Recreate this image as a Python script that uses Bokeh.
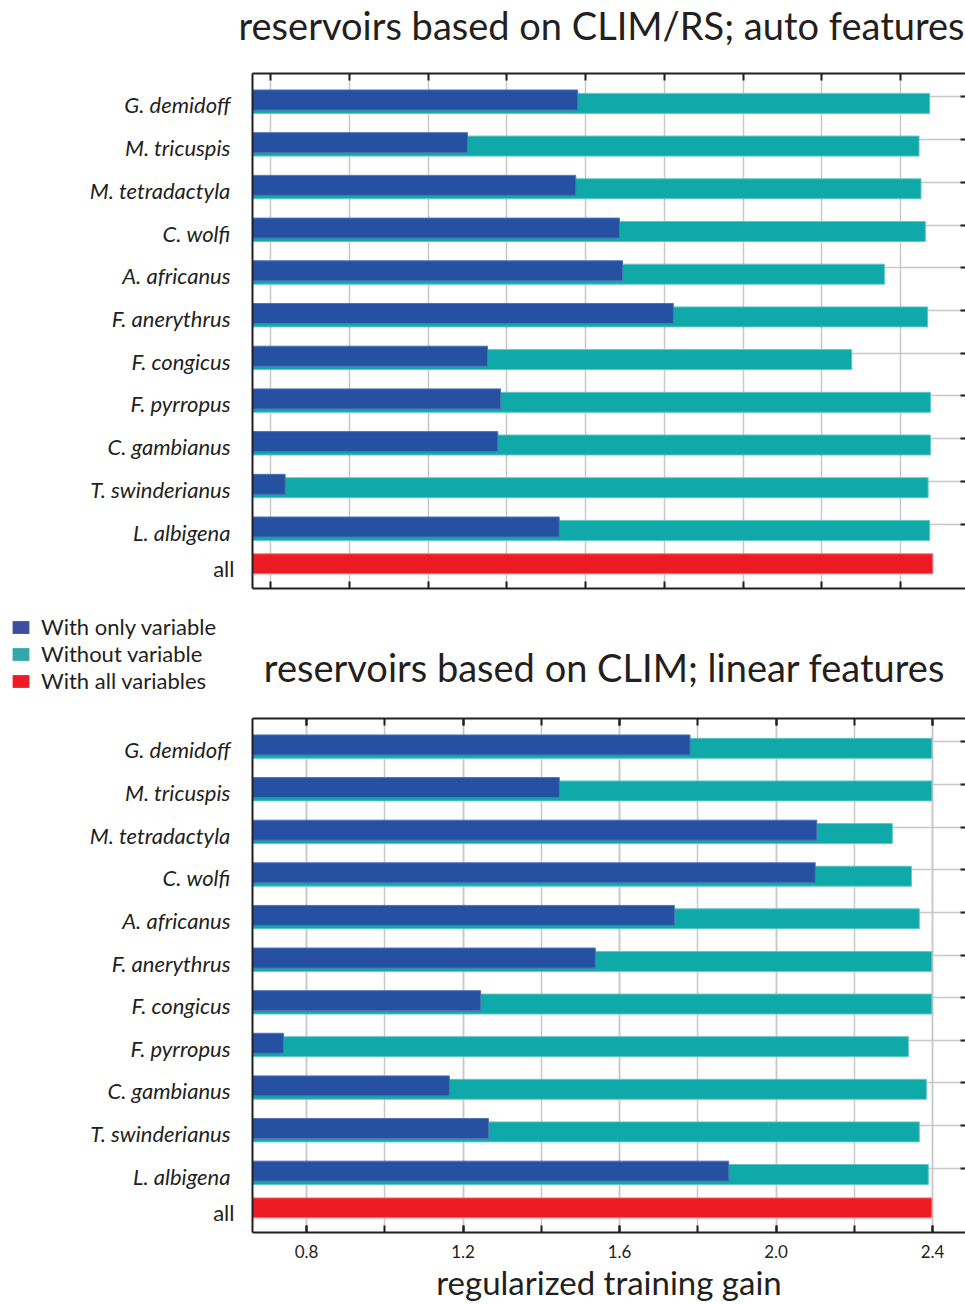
from bokeh.plotting import figure
from bokeh.models import (Range1d, FixedTicker, LinearAxis, CustomJSTickFormatter,
                          PrintfTickFormatter, CustomLabelingPolicy,
                          Label, Legend, LegendItem, ColumnDataSource)
from bokeh.embed import file_html
from bokeh.resources import INLINE

# ---------------- data ----------------
species = ["G. demidoff", "M. tricuspis", "M. tetradactyla", "C. wolfi", "A. africanus",
           "F. anerythrus", "F. congicus", "F. pyrropus", "C. gambianus",
           "T. swinderianus", "L. albigena"]
all_label = "all"

title_top = "reservoirs based on CLIM/RS; auto features"
title_bot = "reservoirs based on CLIM; linear features"
x_label = "regularized training gain"
legend_labels = ["With only variable", "Without variable", "With all variables"]

# top panel (CLIM/RS, auto features)
top_only = [1.480, 1.200, 1.475, 1.586, 1.594, 1.723, 1.251, 1.284, 1.277, 0.737, 1.433]
top_without = [2.374, 2.347, 2.352, 2.363, 2.259, 2.369, 2.176, 2.376, 2.376, 2.370, 2.374]
top_all = 2.382

# bottom panel (CLIM, linear features)
bot_only = [1.780, 1.446, 2.104, 2.100, 1.740, 1.538, 1.245, 0.741, 1.165, 1.265, 1.879]
bot_without = [2.398, 2.398, 2.297, 2.346, 2.366, 2.398, 2.398, 2.338, 2.384, 2.366, 2.389]
bot_all = 2.398

top_ticks = [0.7, 0.9, 1.1, 1.3, 1.5, 1.7, 1.9, 2.1, 2.3]
bot_major_ticks = [0.8, 1.2, 1.6, 2.0, 2.4]
bot_minor_ticks = [0.8, 1.0, 1.2, 1.4, 1.6, 1.8, 2.0, 2.2, 2.4]

# ---------------- styles ----------------
BLUE, BLUE_EDGE = "#2651A3", "#4F72B8"
TEAL, TEAL_EDGE = "#0EA9A8", "#63C7C5"
RED, RED_EDGE = "#ED1C24", "#F27A7A"
LEG_COLORS = ["#3B4EA0", "#32A8AA", "#ED1C24"]
INK = "#231F20"
GRID = "#C8C8C8"
FONT = "Lato"

W = 965
ROW = 42.7                      # px per row
BAR_H = 20 / ROW
TEAL_OFF = 3.4 / ROW
LABEL_OFF = 5 / ROW
GRID_OFF = -3 / ROW
ALL_POS = 10 + 36.8 / ROW

ypos = list(range(len(species)))

NO_LABELS = CustomLabelingPolicy(code="""
for (let i = 0; i < indices.size; i++) { indices.unset(i) }
return indices
""")


def blank(height):
    p = figure(width=W, height=height, x_range=Range1d(0, W), y_range=Range1d(height, 0),
               x_axis_type=None, y_axis_type=None, output_backend="svg",
               toolbar_location=None, min_border=0)
    p.outline_line_color = None
    p.grid.visible = False
    return p


def hidden_label_axis(ticks, minor, tick_in, minor_in, axis_line):
    return LinearAxis(ticker=FixedTicker(ticks=ticks, minor_ticks=minor),
                      axis_line_color=INK if axis_line else None, axis_line_width=2,
                      major_tick_in=tick_in, major_tick_out=0,
                      major_tick_line_color=INK, major_tick_line_width=2,
                      minor_tick_in=minor_in, minor_tick_out=0,
                      minor_tick_line_color=INK if minor else None, minor_tick_line_width=2,
                      major_label_text_font_size="0px", major_label_standoff=0,
                      major_label_policy=NO_LABELS)


def panel(height, btop, bbot, x0, x1, only, without, allv, labelled):
    p = figure(width=W, height=height, x_range=Range1d(x0, x1), y_range=Range1d(11.44, -0.62),
               output_backend="svg", toolbar_location=None,
               min_border_left=252, min_border_right=0,
               min_border_top=btop, min_border_bottom=bbot)
    p.outline_line_color = None

    if labelled:
        xt = FixedTicker(ticks=bot_major_ticks, minor_ticks=bot_minor_ticks)
    else:
        xt = FixedTicker(ticks=top_ticks, minor_ticks=[])

    src = ColumnDataSource(dict(y=ypos, yt=[y + TEAL_OFF for y in ypos],
                                only=only, without=without))
    p.hbar(y="yt", left=x0, right="without", height=BAR_H, source=src,
           fill_color=TEAL, line_color=TEAL_EDGE, line_width=1)
    p.hbar(y="y", left=x0, right="only", height=BAR_H, source=src,
           fill_color=BLUE, line_color=BLUE_EDGE, line_width=1)
    p.hbar(y=[ALL_POS], left=x0, right=[allv], height=BAR_H,
           fill_color=RED, line_color=RED_EDGE, line_width=1)

    # grids
    p.xgrid.ticker = xt
    p.xgrid.grid_line_color = GRID
    p.xgrid.grid_line_width = 1.5
    if labelled:
        p.xgrid.minor_grid_line_color = GRID
        p.xgrid.minor_grid_line_width = 1.5
    p.ygrid.ticker = FixedTicker(ticks=[y + GRID_OFF for y in ypos], minor_ticks=[])
    p.ygrid.grid_line_color = GRID
    p.ygrid.grid_line_width = 1.5

    # bottom axis
    xa = p.xaxis[0]
    xa.ticker = xt
    xa.axis_line_color = INK
    xa.axis_line_width = 2
    xa.major_tick_in = 7
    xa.major_tick_out = 0
    xa.major_tick_line_color = INK
    xa.major_tick_line_width = 2
    if labelled:
        xa.minor_tick_in = 7
        xa.minor_tick_out = 0
        xa.minor_tick_line_color = INK
        xa.minor_tick_line_width = 2
        xa.formatter = PrintfTickFormatter(format="%.1f")
        xa.major_label_text_font = FONT
        xa.major_label_text_font_size = "17px"
        xa.major_label_text_color = INK
        xa.major_label_standoff = 12
        xa.axis_label = x_label
        xa.axis_label_text_font = FONT
        xa.axis_label_text_font_size = "33px"
        xa.axis_label_text_font_style = "normal"
        xa.axis_label_text_color = INK
        xa.axis_label_standoff = 1
    else:
        xa.minor_tick_line_color = None
        xa.major_label_text_font_size = "0px"
        xa.major_label_standoff = 0
        xa.major_label_policy = NO_LABELS

    # top axis
    p.add_layout(hidden_label_axis(list(xt.ticks), list(xt.minor_ticks), 7,
                                   7 if labelled else 0, True), "above")

    # inner left axis: frame line and the upright "all" label
    ya = p.yaxis[0]
    ya.ticker = FixedTicker(ticks=[ALL_POS + LABEL_OFF], minor_ticks=[])
    ya.formatter = CustomJSTickFormatter(args=dict(lab=all_label), code="return lab;")
    ya.axis_line_color = INK
    ya.axis_line_width = 2
    ya.major_tick_line_color = None
    ya.minor_tick_line_color = None
    ya.major_label_standoff = 12
    ya.major_label_text_font = FONT
    ya.major_label_text_font_size = "22px"
    ya.major_label_text_color = INK

    # outer left axis: italic species names
    sa = LinearAxis(ticker=FixedTicker(ticks=[y + LABEL_OFF for y in ypos], minor_ticks=[]),
                    formatter=CustomJSTickFormatter(args=dict(labels=species),
                                                    code="return labels[Math.round(tick)];"),
                    axis_line_color=None, major_tick_line_color=None,
                    minor_tick_line_color=None, major_label_standoff=-26,
                    major_label_text_font=FONT, major_label_text_font_style="italic",
                    major_label_text_font_size="22px", major_label_text_color=INK)
    p.add_layout(sa, "left")

    # right ticks
    p.add_layout(hidden_label_axis([y + GRID_OFF for y in ypos], [], 5, 0, False), "right")
    return p


# title strip
pt = blank(64)
pt.add_layout(Label(x=601, y=24, text=title_top, text_align="center",
                    text_baseline="alphabetic", text_font=FONT, text_font_size="38px",
                    text_color=INK))

p_top = panel(536, 9, 12, 0.654, 2.465, top_only, top_without, top_all, False)

# middle strip: legend + second title
pm = blank(106)
nan = float("nan")
rends = []
for c in LEG_COLORS:
    rends.append(pm.hbar(y=[nan], right=[nan], height=1, fill_color=c, line_color=None))
leg = Legend(items=[LegendItem(label=l, renderers=[r]) for l, r in zip(legend_labels, rends)],
             location=(10, 12), orientation="vertical", glyph_width=21, glyph_height=16,
             label_height=16, spacing=0, padding=0, margin=0, label_standoff=10,
             label_text_font=FONT, label_text_font_size="22px", label_text_color=INK,
             border_line_color=None, background_fill_alpha=0)
pm.add_layout(leg)
pm.add_layout(Label(x=604, y=66, text=title_bot, text_align="center",
                    text_baseline="alphabetic", text_font=FONT, text_font_size="38px",
                    text_color=INK))

p_bot = panel(598, 12, 71, 0.662, 2.484, bot_only, bot_without, bot_all, True)

open("out.html", "w").write(file_html([pt, p_top, pm, p_bot], INLINE))
